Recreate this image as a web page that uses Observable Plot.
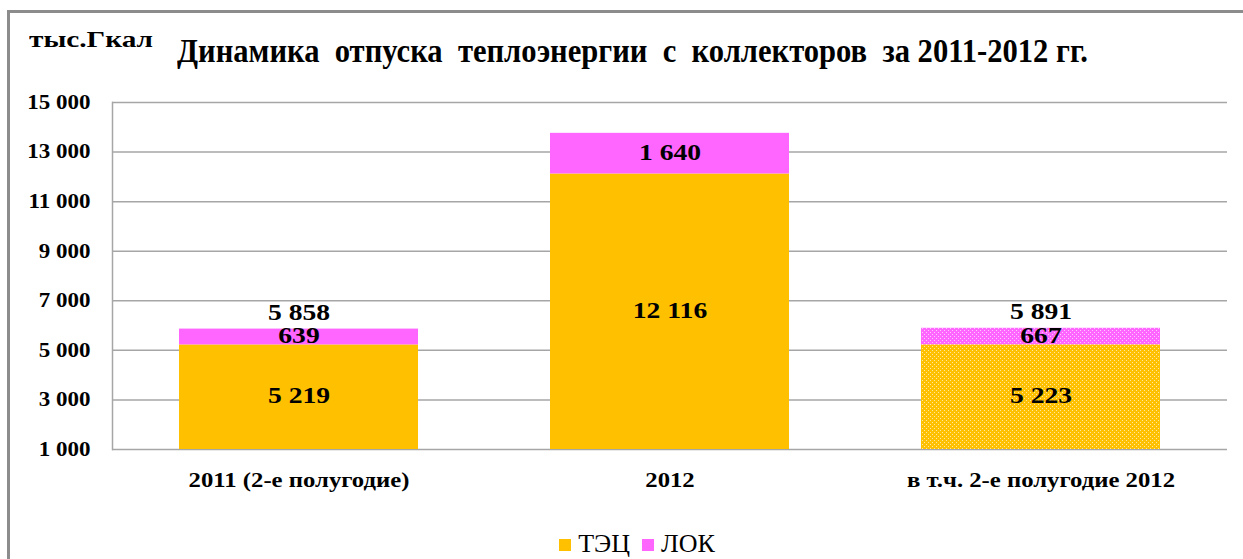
<!DOCTYPE html>
<html>
<head>
<meta charset="utf-8">
<script src="https://cdn.jsdelivr.net/npm/d3@7"></script>
<script src="https://cdn.jsdelivr.net/npm/@observablehq/plot@0.6"></script>
<style>
  html, body { margin: 0; padding: 0; background: #fff; }
  #wrap { position: relative; width: 1243px; height: 559px; overflow: hidden; font-family: "Times New Roman", "Liberation Serif", "DejaVu Serif", serif; }
  #frame { position: absolute; left: 7px; top: 10px; width: 1300px; height: 600px; border-left: 3px solid #8c8c8c; border-top: 3px solid #8c8c8c; box-sizing: border-box; }
  #unit { position: absolute; left: 29px; top: 26px; font-weight: bold; font-size: 24px; color: #000; white-space: nowrap; transform-origin: 0 0; }
  #title { position: absolute; left: 177px; top: 33px; font-weight: bold; font-size: 33px; color: #000; white-space: nowrap; transform-origin: 0 0; }
  #chart { position: absolute; left: 0; top: 90px; }
  #legend { position: absolute; left: 0; top: 531px; font-size: 26px; line-height: 26px; color: #000; white-space: nowrap; }
  #legend span.sw { display: inline-block; width: 12px; height: 12px; margin-right: 7px; vertical-align: 1px; }
  #legend span.item { margin-right: 12px; }
  #chart svg text { font-family: "Times New Roman", "Liberation Serif", "DejaVu Serif", serif; }
</style>
</head>
<body>
<div id="wrap">
  <div id="frame"></div>
  <div id="unit">тыс.Гкал</div>
  <div id="title">Динамика&nbsp; отпуска&nbsp; теплоэнергии&nbsp; с&nbsp; коллекторов&nbsp; за 2011-2012 гг.</div>
  <div id="chart"></div>
  <div id="legend"></div>
</div>
<script>
const categories = ["2011 (2-е полугодие)", "2012", "в т.ч. 2-е полугодие 2012"];
const tec = [5219, 12116, 5223];
const lok = [639, 1640, 667];
const totalLabels = [5858, null, 5891];
const seriesNames = ["ТЭЦ", "ЛОК"];
const seriesColors = ["#FFC000", "#FF66FF"];
const yTicks = [1000, 3000, 5000, 7000, 9000, 11000, 13000, 15000];
const yMin = 1000, yMax = 15000;
const patterned = ["в т.ч. 2-е полугодие 2012"];

const fmt = d => d3.format(",")(d).replace(/,/g, " ");

const rows = [];
categories.forEach((c, i) => {
  rows.push({cat: c, series: seriesNames[0], value: tec[i], y1: 0, y2: tec[i], pat: patterned.includes(c)});
  rows.push({cat: c, series: seriesNames[1], value: lok[i], y1: tec[i], y2: tec[i] + lok[i], pat: patterned.includes(c)});
});
rows.forEach(r => { r.mid = (Math.max(yMin, r.y1) + r.y2) / 2; });
const totals = categories.map((c, i) => ({cat: c, top: tec[i] + lok[i], label: totalLabels[i]})).filter(d => d.label != null);

const FONT = "Times New Roman, Liberation Serif, DejaVu Serif, serif";

const plot = Plot.plot({
  width: 1243,
  height: 410,
  marginLeft: 112,
  marginRight: 16,
  marginTop: 12,
  marginBottom: 51,
  style: {fontFamily: FONT, fontSize: "20px", fontWeight: "bold", color: "#000", background: "transparent"},
  x: {domain: categories, paddingInner: 0.356, paddingOuter: 0.18, label: null},
  y: {domain: [yMin, yMax], ticks: yTicks, label: null},
  marks: [
    Plot.gridY(yTicks, {stroke: "#a6a6a6", strokeOpacity: 1, strokeWidth: 1.5}),
    Plot.frame({anchor: "left", stroke: "#a6a6a6", strokeWidth: 1.5}),
    Plot.barY(rows.filter(r => !r.pat), {x: "cat", y1: "y1", y2: "y2", fill: r => seriesColors[seriesNames.indexOf(r.series)], clip: true}),
    Plot.barY(rows.filter(r => r.pat && r.series === seriesNames[0]), {x: "cat", y1: "y1", y2: "y2", fill: "url(#patTec)", clip: true}),
    Plot.barY(rows.filter(r => r.pat && r.series === seriesNames[1]), {x: "cat", y1: "y1", y2: "y2", fill: "url(#patLok)", clip: true}),
    Plot.text(rows, {x: "cat", y: "mid", text: r => fmt(r.value), fontSize: 24, fontWeight: "bold", fill: "#000", lineHeight: 0.8}),
    Plot.text(totals, {x: "cat", y: "top", text: d => fmt(d.label), dy: -15, fontSize: 24, fontWeight: "bold", fill: "#000", lineHeight: 0.8}),
    Plot.axisY({ticks: yTicks, tickFormat: fmt, tickSize: 0, tickPadding: 22, fontSize: 20, fontWeight: "bold"}),
    Plot.axisX({tickSize: 0, tickPadding: 22, fontSize: 21.5, fontWeight: "bold"})
  ]
});

const ns = "http://www.w3.org/2000/svg";
const defs = document.createElementNS(ns, "defs");
function makePattern(id, base, dot) {
  const p = document.createElementNS(ns, "pattern");
  p.setAttribute("id", id);
  p.setAttribute("patternUnits", "userSpaceOnUse");
  p.setAttribute("width", "4");
  p.setAttribute("height", "4");
  const r = document.createElementNS(ns, "rect");
  r.setAttribute("width", "4"); r.setAttribute("height", "4"); r.setAttribute("fill", base);
  p.appendChild(r);
  [[0,0],[2,2]].forEach(([x,y]) => {
    const d = document.createElementNS(ns, "rect");
    d.setAttribute("x", x); d.setAttribute("y", y);
    d.setAttribute("width", "1"); d.setAttribute("height", "1"); d.setAttribute("fill", dot);
    p.appendChild(d);
  });
  defs.appendChild(p);
}
makePattern("patTec", seriesColors[0], "#FFE9A0");
makePattern("patLok", seriesColors[1], "#FFC8FF");
plot.insertBefore(defs, plot.firstChild);

document.getElementById("chart").appendChild(plot);

// widen the serif glyphs horizontally, as in the reference (about 1.15x)
const STRETCH = 1.15;
plot.querySelectorAll("text").forEach(t => {
  const bb = t.getBBox();
  const anchor = getComputedStyle(t).textAnchor;
  const ax = anchor === "end" ? bb.x + bb.width : anchor === "middle" ? bb.x + bb.width / 2 : bb.x;
  const tr = t.getAttribute("transform") || "";
  t.setAttribute("transform", `${tr} translate(${ax},0) scale(${STRETCH},1) translate(${-ax},0)`);
});

function fitWidth(id, target) {
  const el = document.getElementById(id);
  const w = el.getBoundingClientRect().width;
  el.style.transform = `scaleX(${target / w})`;
}
fitWidth("unit", 124);
fitWidth("title", 911);

const leg = document.getElementById("legend");
seriesNames.forEach((s, i) => {
  const it = document.createElement("span");
  it.className = "item";
  const sw = document.createElement("span");
  sw.className = "sw";
  sw.style.background = seriesColors[i];
  it.appendChild(sw);
  it.appendChild(document.createTextNode(s));
  leg.appendChild(it);
});
// centre the legend block on the reference's legend centre
const lw = leg.getBoundingClientRect().width - 12;
leg.style.left = (637 - lw / 2) + "px";
</script>
</body>
</html>
